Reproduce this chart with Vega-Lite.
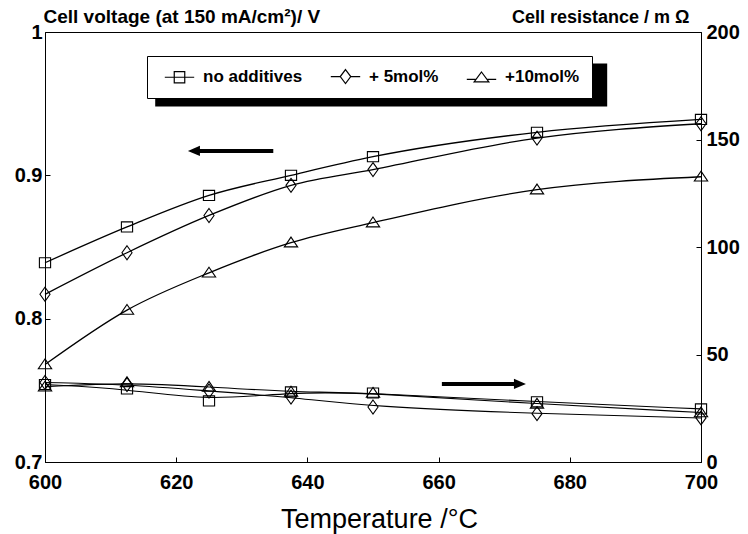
{
  "$schema": "https://vega.github.io/schema/vega-lite/v6.json",
  "width": 656,
  "height": 430,
  "autosize": {"type": "none"},
  "padding": {"left": 45, "top": 32, "right": 47, "bottom": 72},
  "background": "white",
  "config": {
    "view": {"stroke": "black", "strokeWidth": 1},
    "axis": {"grid": false, "labelFlush": false, "domainColor": "black", "tickColor": "black", "labelColor": "black", "titleColor": "black", "labelFont": "Liberation Sans", "titleFont": "Liberation Sans", "labelFontWeight": "bold", "domainWidth": 1, "tickWidth": 1},
    "legend": {
      "orient": "none", "legendX": 102, "legendY": 24, "direction": "horizontal", "columns": 3,
      "fillColor": "white", "strokeColor": "black", "strokeWidth": 1, "padding": 12,
      "symbolSize": 196, "symbolOffset": 12, "labelOffset": 15, "columnPadding": 22,
      "symbolStrokeColor": "black", "symbolFillColor": "transparent", "symbolStrokeWidth": 1.2,
      "labelFont": "Liberation Sans", "labelFontWeight": "bold", "labelFontSize": 17, "labelColor": "black"
    }
  },
  "datasets": {
    "main": [
      {"T": 600, "series": "no additives", "voltage": 0.839, "resistance": 36},
      {"T": 612.5, "series": "no additives", "voltage": 0.864, "resistance": 34},
      {"T": 625, "series": "no additives", "voltage": 0.886, "resistance": 28.4},
      {"T": 637.5, "series": "no additives", "voltage": 0.900, "resistance": 32.6},
      {"T": 650, "series": "no additives", "voltage": 0.913, "resistance": 32.1},
      {"T": 675, "series": "no additives", "voltage": 0.930, "resistance": 28},
      {"T": 700, "series": "no additives", "voltage": 0.939, "resistance": 24.7},
      {"T": 600, "series": "+ 5mol%", "voltage": 0.817, "resistance": 37},
      {"T": 612.5, "series": "+ 5mol%", "voltage": 0.846, "resistance": 36},
      {"T": 625, "series": "+ 5mol%", "voltage": 0.872, "resistance": 33},
      {"T": 637.5, "series": "+ 5mol%", "voltage": 0.893, "resistance": 30.2},
      {"T": 650, "series": "+ 5mol%", "voltage": 0.904, "resistance": 25.6},
      {"T": 675, "series": "+ 5mol%", "voltage": 0.926, "resistance": 22.5},
      {"T": 700, "series": "+ 5mol%", "voltage": 0.936, "resistance": 20.5},
      {"T": 600, "series": "+10mol%", "voltage": 0.768, "resistance": 35},
      {"T": 612.5, "series": "+10mol%", "voltage": 0.806, "resistance": 37},
      {"T": 625, "series": "+10mol%", "voltage": 0.832, "resistance": 34.9},
      {"T": 637.5, "series": "+10mol%", "voltage": 0.853, "resistance": 32.6},
      {"T": 650, "series": "+10mol%", "voltage": 0.867, "resistance": 32.1},
      {"T": 675, "series": "+10mol%", "voltage": 0.890, "resistance": 27},
      {"T": 700, "series": "+10mol%", "voltage": 0.899, "resistance": 23}
    ]
  },
  "data": {"name": "main"},
  "resolve": {"scale": {"y": "independent", "shape": "independent"}},
  "layer": [
    {
      "resolve": {"scale": {"shape": "independent"}},
      "encoding": {
        "x": {"field": "T", "type": "quantitative", "scale": {"domain": [600, 700], "nice": false},
          "axis": {"values": [600, 620, 640, 660, 680, 700], "tickSize": -5, "labelPadding": 15, "labelFontSize": 20,
            "title": "Temperature /°C", "titleFontSize": 27, "titleFontWeight": "normal", "titleX": 334, "titleY": 65, "titleBaseline": "alphabetic", "titleAlign": "center"}},
        "y": {"field": "voltage", "type": "quantitative", "scale": {"domain": [0.7, 1.0], "nice": false, "zero": false},
          "axis": {"orient": "left", "values": [0.7, 0.8, 0.9, 1.0], "labelExpr": "datum.value == 1 ? '1' : format(datum.value, '.1f')", "tickSize": -5, "labelPadding": 8, "labelFontSize": 20,
            "title": "Cell voltage (at 150 mA/cm²)/ V", "titleAngle": 0, "titleAlign": "left", "titleBaseline": "alphabetic", "titleX": -2, "titleY": -10, "titleFontSize": 19, "titleFontWeight": "bold"}}
      },
      "layer": [
        {
          "data": {"values": [{"T": 616.8, "T2": 685.7, "voltage": 0.978, "voltage2": 0.948}]},
          "mark": {"type": "rect", "color": "black"},
          "encoding": {"x2": {"field": "T2"}, "y2": {"field": "voltage2"}}
        },
        {
          "mark": {"type": "line", "interpolate": "monotone", "color": "black", "strokeWidth": 1.3},
          "encoding": {"detail": {"field": "series"}}
        },
        {
          "mark": {"type": "point", "filled": false, "color": "black", "strokeWidth": 1.1, "size": 196, "opacity": 1},
          "encoding": {"shape": {"field": "series", "type": "nominal", "legend": null,
            "scale": {"domain": ["no additives", "+ 5mol%", "+10mol%"], "range": ["M-0.8,-0.72H0.8V0.72H-0.8Z", "M0,-1L0.72,0L0,1L-0.72,0Z", "M0,-0.8L0.95,0.6H-0.95Z"]}}}
        },
        {
          "transform": [{"filter": "false"}],
          "mark": {"type": "point", "filled": false, "color": "black", "strokeWidth": 1.2, "size": 196, "opacity": 1},
          "encoding": {"shape": {"field": "series", "type": "nominal",
            "scale": {"domain": ["no additives", "+ 5mol%", "+10mol%"], "range": ["M-2.1,0H2.1M-0.75,-0.8H0.75V0.8H-0.75Z", "M-2.1,0H-0.75M0.75,0H2.1M0,-1L0.75,0L0,1L-0.75,0Z", "M-2.1,0.3H-0.85M0.85,0.3H2.1M0,-0.75L1.05,0.65H-1.05Z"]},
            "legend": {"title": null}}}
        },
        {
          "data": {"values": [{"T": 622.9, "T2": 634.8, "voltage": 0.917}]},
          "mark": {"type": "rule", "color": "black", "strokeWidth": 4},
          "encoding": {"x2": {"field": "T2"}}
        },
        {
          "data": {"values": [{"T": 622.7, "voltage": 0.917}]},
          "mark": {"type": "point", "shape": "M-1,0L1,-0.85L1,0.85Z", "size": 144, "filled": true, "color": "black", "opacity": 1},
          "encoding": {}
        }
      ]
    },
    {
      "encoding": {
        "x": {"field": "T", "type": "quantitative"},
        "y": {"field": "resistance", "type": "quantitative", "scale": {"domain": [0, 200], "nice": false},
          "axis": {"orient": "right", "values": [0, 50, 100, 150, 200], "tickSize": -5, "labelPadding": 10, "labelFontSize": 20,
            "title": "Cell resistance / m Ω", "titleAngle": 0, "titleAlign": "right", "titleBaseline": "alphabetic", "titleX": -12, "titleY": -10, "titleFontSize": 18, "titleFontWeight": "bold"}}
      },
      "layer": [
        {
          "mark": {"type": "line", "interpolate": "basis", "color": "black", "strokeWidth": 1.1},
          "encoding": {"detail": {"field": "series"}}
        },
        {
          "mark": {"type": "point", "filled": false, "color": "black", "strokeWidth": 1.1, "size": 196, "opacity": 1},
          "encoding": {"shape": {"field": "series", "type": "nominal", "legend": null,
            "scale": {"domain": ["no additives", "+ 5mol%", "+10mol%"], "range": ["M-0.8,-0.72H0.8V0.72H-0.8Z", "M0,-1L0.72,0L0,1L-0.72,0Z", "M0,-0.8L0.95,0.6H-0.95Z"]}}}
        },
        {
          "data": {"values": [{"T": 660.5, "T2": 671.8, "resistance": 36.3}]},
          "mark": {"type": "rule", "color": "black", "strokeWidth": 4},
          "encoding": {"x2": {"field": "T2"}}
        },
        {
          "data": {"values": [{"T": 672.4, "resistance": 36.3}]},
          "mark": {"type": "point", "shape": "M1,0L-1,-0.85L-1,0.85Z", "size": 144, "filled": true, "color": "black", "opacity": 1},
          "encoding": {}
        }
      ]
    }
  ]
}
